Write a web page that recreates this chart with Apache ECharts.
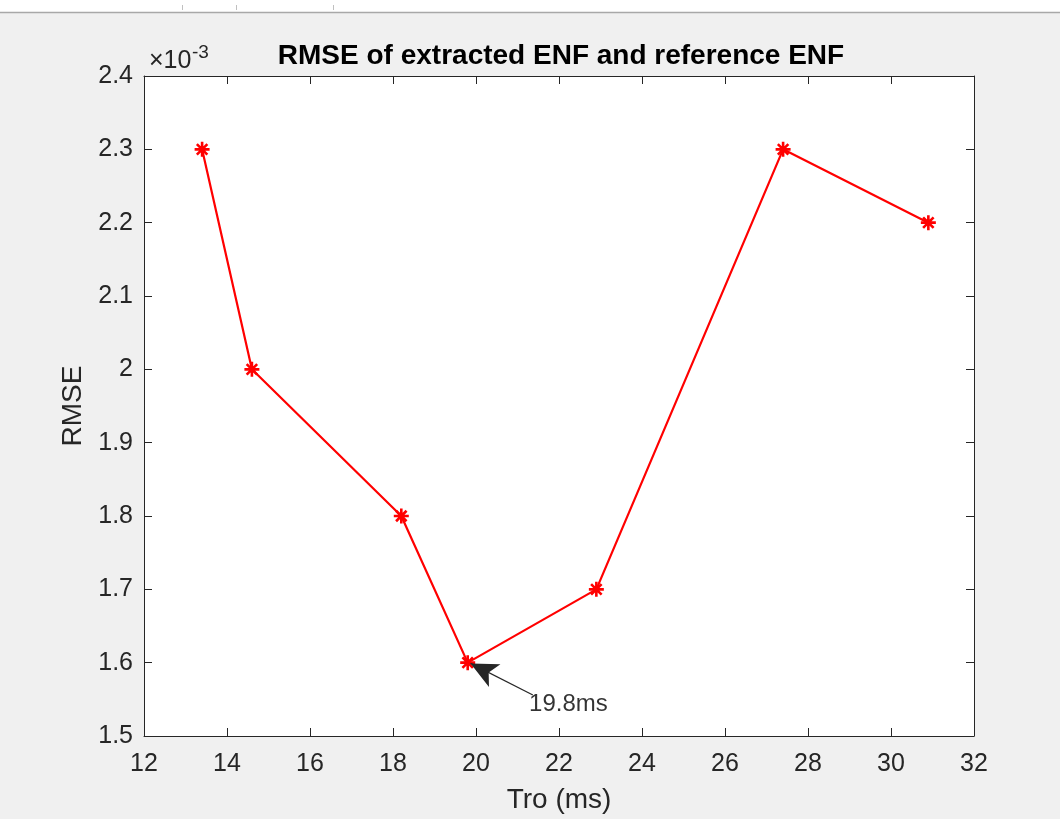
<!DOCTYPE html>
<html>
<head>
<meta charset="utf-8">
<script src="https://cdn.jsdelivr.net/npm/echarts@6/dist/echarts.min.js"></script>
<style>
html,body{margin:0;padding:0;background:#f0f0f0;}
#main{width:1060px;height:819px;}
</style>
</head>
<body>
<div id="main"></div>
<script>
// Data
const troMs = [13.4, 14.6, 18.2, 19.8, 22.9, 27.4, 30.9];
const rmse = [0.0023, 0.0020, 0.0018, 0.0016, 0.0017, 0.0023, 0.0022];
const xTicks = [12, 14, 16, 18, 20, 22, 24, 26, 28, 30, 32];
const yTicks = [1.5, 1.6, 1.7, 1.8, 1.9, 2.0, 2.1, 2.2, 2.3, 2.4];
const annotationText = '19.8ms';
const annotationTail = [21.37, 0.001556];
const annotationTip = [19.87, 0.001599];
const annotationLabelPos = [21.28, 0.001543];

const FONT = '"Liberation Sans", Arial, Helvetica, sans-serif';
const AX = '#262626';
const asterisk = 'path://M0,-10L0,10M-10,0L10,0M-7,-7L7,7M-7,7L7,-7';

const chart = echarts.init(document.getElementById('main'));
const baseX = {
  type: 'value', min: xTicks[0], max: xTicks[xTicks.length - 1], interval: 2,
  axisLine: {show: true, lineStyle: {color: AX, width: 1}},
  axisTick: {show: true, inside: true, length: 8, lineStyle: {color: AX}},
  splitLine: {show: false}
};
const baseY = {
  type: 'value', min: yTicks[0] / 1000, max: yTicks[yTicks.length - 1] / 1000, interval: 0.0001,
  axisLine: {show: true, lineStyle: {color: AX, width: 1}},
  axisTick: {show: true, inside: true, length: 8, lineStyle: {color: AX}},
  splitLine: {show: false}
};
chart.setOption({
  backgroundColor: '#f0f0f0',
  animation: false,
  graphic: [
    {type: 'rect', shape: {x: 0, y: 0, width: 1060, height: 12}, style: {fill: '#ffffff'}, silent: true},
    {type: 'line', shape: {x1: 0, y1: 12.5, x2: 1060, y2: 12.5}, style: {stroke: '#a8a8a8', lineWidth: 1.5}, silent: true},
    {type: 'line', shape: {x1: 182.5, y1: 5, x2: 182.5, y2: 10}, style: {stroke: '#c0c0c0', lineWidth: 1}, silent: true},
    {type: 'line', shape: {x1: 236.5, y1: 5, x2: 236.5, y2: 10}, style: {stroke: '#c0c0c0', lineWidth: 1}, silent: true},
    {type: 'line', shape: {x1: 333.5, y1: 5, x2: 333.5, y2: 10}, style: {stroke: '#c0c0c0', lineWidth: 1}, silent: true}
  ],
  title: [
    {
      text: 'RMSE of extracted ENF and reference ENF',
      left: 556, top: 37, textAlign: 'center',
      textStyle: {fontFamily: FONT, fontWeight: 'bold', fontSize: 28, color: '#000'}
    },
    {
      text: '×10',
      left: 144, top: 44,
      textStyle: {fontFamily: FONT, fontWeight: 'normal', fontSize: 25, color: AX}
    },
    {
      text: '-3',
      left: 187, top: 38,
      textStyle: {fontFamily: FONT, fontWeight: 'normal', fontSize: 19, color: AX}
    }
  ],
  grid: {left: 144, right: 86, top: 76, bottom: 79, show: true, backgroundColor: '#ffffff', borderWidth: 0},
  xAxis: [
    Object.assign({}, baseX, {
      position: 'bottom',
      name: 'Tro (ms)', nameLocation: 'middle', nameGap: 50,
      nameTextStyle: {fontFamily: FONT, fontSize: 28, color: AX},
      axisLabel: {fontFamily: FONT, fontSize: 25, color: AX, margin: 16, formatter: v => String(v)}
    }),
    Object.assign({}, baseX, {position: 'top', axisLabel: {show: false}})
  ],
  yAxis: [
    Object.assign({}, baseY, {
      position: 'left',
      name: 'RMSE', nameLocation: 'middle', nameGap: 57,
      nameTextStyle: {fontFamily: FONT, fontSize: 28, color: AX},
      axisLabel: {fontFamily: FONT, fontSize: 25, color: AX, margin: 11,
        formatter: v => String(Math.round(v * 10000) / 10)}
    }),
    Object.assign({}, baseY, {position: 'right', axisLabel: {show: false}})
  ],
  series: [
    {
      type: 'line',
      data: troMs.map((x, i) => [x, rmse[i]]),
      lineStyle: {color: '#ff0000', width: 2.2},
      symbol: asterisk, symbolSize: 15, showAllSymbol: true,
      itemStyle: {color: '#ff0000', borderColor: '#ff0000', borderWidth: 2.6},
      z: 3
    },
    {
      type: 'scatter',
      data: [annotationLabelPos],
      symbolSize: 0,
      label: {show: true, position: 'right', distance: 0, formatter: annotationText,
        fontFamily: FONT, fontSize: 24, color: '#000'},
      markLine: {
        silent: true,
        symbol: ['none', 'arrow'],
        symbolSize: [19, 27],
        label: {show: false},
        lineStyle: {color: '#262626', width: 1.2, type: 'solid'},
        data: [[{coord: annotationTail}, {coord: annotationTip}]]
      },
      z: 4
    }
  ]
});
</script>
</body>
</html>
